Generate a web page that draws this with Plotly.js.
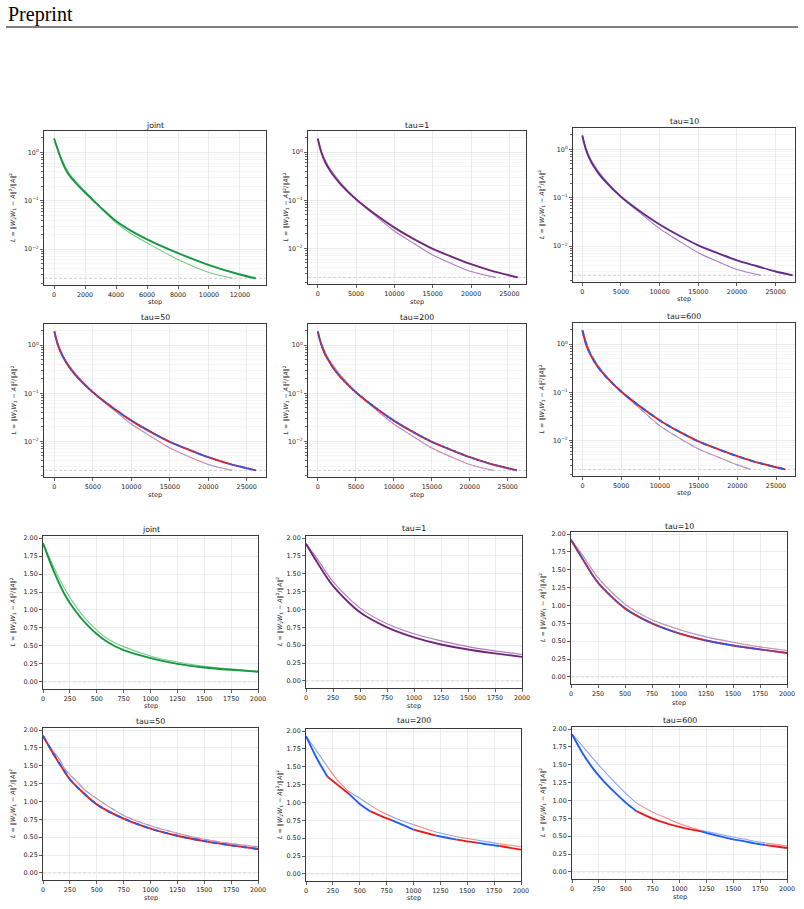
<!DOCTYPE html>
<html><head><meta charset="utf-8">
<script src="https://cdn.plot.ly/plotly-3.0.1.min.js"></script>
<style>html,body{margin:0;padding:0;background:#fff;}#chart{width:804px;height:909px;}</style>
</head><body><div id="chart"></div>
<script>
// ---------------- DATA ----------------
const TITLES = ['joint','tau=1','tau=10','tau=50','tau=200','tau=600'];
const TAUS = [0, 1, 10, 50, 200, 600];
const THRESH_LOG = 0.0025;   // dashed threshold line on the log panels
const THRESH_LIN = 0;        // dashed line on the linear panels

// --- top group (log y, full run) ---
const logJointDarkStep  = [0, 250, 500, 750, 1000, 1500, 2000, 3000, 4000, 5000, 6000, 8000, 10000, 12000, 13030];
const logJointDarkLoss  = [1.93, 1.10, 0.665, 0.44, 0.33, 0.215, 0.148, 0.073, 0.038, 0.0235, 0.0160, 0.0083, 0.0047, 0.0030, 0.0025];
const logJointLightStep = [0, 250, 500, 750, 1000, 1500, 2000, 3000, 4000, 5000, 6000, 8000, 10000, 11530];
const logJointLightLoss = [1.93, 1.17, 0.72, 0.49, 0.36, 0.23, 0.157, 0.073, 0.035, 0.0205, 0.0135, 0.0061, 0.0033, 0.0025];

const logTau1DarkStep  = [0, 250, 500, 1000, 1500, 2000, 3000, 5000, 7500, 10000, 12500, 15000, 17500, 20000, 22500, 26100];
const logTau1DarkLoss  = [1.92, 1.33, 0.96, 0.61, 0.44, 0.336, 0.215, 0.105, 0.051, 0.027, 0.0158, 0.0098, 0.0067, 0.0047, 0.0035, 0.0025];
const logTau1LightStep = [0, 250, 500, 1000, 1500, 2000, 3000, 5000, 7500, 10000, 12500, 15000, 17500, 20000, 23200];
const logTau1LightLoss = [1.92, 1.39, 1.02, 0.66, 0.48, 0.37, 0.23, 0.106, 0.048, 0.023, 0.0128, 0.0073, 0.0048, 0.0033, 0.0025];

const logTau10DarkStep  = [0, 250, 500, 1000, 1500, 2000, 3000, 5000, 7500, 10000, 12500, 15000, 17500, 20000, 22500, 25000, 27200];
const logTau10DarkLoss  = [1.92, 1.32, 0.96, 0.61, 0.44, 0.335, 0.215, 0.105, 0.052, 0.028, 0.0166, 0.0104, 0.0072, 0.0051, 0.0039, 0.0030, 0.0025];
const logTau10LightStep = [0, 250, 500, 1000, 1500, 2000, 3000, 5000, 7500, 10000, 12500, 15000, 17500, 20000, 23100];
const logTau10LightLoss = [1.92, 1.39, 1.02, 0.665, 0.485, 0.37, 0.23, 0.106, 0.048, 0.023, 0.0128, 0.0073, 0.0048, 0.0033, 0.0025];

const logTau50DarkStep  = [0, 250, 500, 1000, 1500, 2000, 3000, 5000, 7500, 10000, 12500, 15000, 17500, 20000, 22500, 26200];
const logTau50DarkLoss  = [1.92, 1.31, 0.96, 0.62, 0.445, 0.335, 0.215, 0.105, 0.051, 0.027, 0.0158, 0.0098, 0.0067, 0.0047, 0.0035, 0.0025];
const logTau50LightStep = [0, 250, 500, 1000, 1500, 2000, 3000, 5000, 7500, 10000, 12500, 15000, 17500, 20000, 23100];
const logTau50LightLoss = [1.92, 1.375, 1.04, 0.66, 0.47, 0.365, 0.23, 0.106, 0.048, 0.023, 0.0128, 0.0073, 0.0048, 0.0033, 0.0025];

const logTau200DarkStep  = [0, 250, 500, 1000, 1500, 2000, 3000, 5000, 7500, 10000, 12500, 15000, 17500, 20000, 22500, 26200];
const logTau200DarkLoss  = [1.93, 1.30, 0.98, 0.62, 0.455, 0.34, 0.215, 0.105, 0.051, 0.027, 0.0158, 0.0098, 0.0067, 0.0047, 0.0035, 0.0025];
const logTau200LightStep = [0, 250, 500, 1000, 1500, 2000, 3000, 5000, 7500, 10000, 12500, 15000, 17500, 20000, 23100];
const logTau200LightLoss = [1.93, 1.40, 1.06, 0.69, 0.495, 0.38, 0.235, 0.106, 0.048, 0.023, 0.0128, 0.0073, 0.0048, 0.0033, 0.0025];

const logTau600DarkStep  = [0, 250, 500, 1000, 1500, 2000, 3000, 5000, 7500, 10000, 12500, 15000, 17500, 20000, 22500, 26200];
const logTau600DarkLoss  = [1.93, 1.33, 0.97, 0.63, 0.445, 0.335, 0.215, 0.104, 0.050, 0.026, 0.0152, 0.0095, 0.0066, 0.0047, 0.0035, 0.0025];
const logTau600LightStep = [0, 250, 500, 1000, 1500, 2000, 3000, 5000, 7500, 10000, 12500, 15000, 17500, 20000, 21700];
const logTau600LightLoss = [1.93, 1.49, 1.10, 0.674, 0.488, 0.363, 0.225, 0.102, 0.045, 0.020, 0.0112, 0.0066, 0.0045, 0.0031, 0.0025];

// --- bottom group (linear y, first 2000 steps) ---
const linJointDarkStep  = [0, 100, 200, 300, 400, 500, 600, 750, 1000, 1250, 1500, 1750, 2000];
const linJointDarkLoss  = [1.93, 1.54, 1.22, 0.99, 0.81, 0.665, 0.555, 0.44, 0.33, 0.25, 0.20, 0.167, 0.14];
const linJointLightStep = [0, 100, 200, 300, 400, 500, 600, 750, 1000, 1250, 1500, 1750, 2000];
const linJointLightLoss = [1.93, 1.60, 1.30, 1.06, 0.87, 0.72, 0.60, 0.49, 0.36, 0.275, 0.215, 0.177, 0.149];

const linTau1DarkStep  = [0, 100, 250, 500, 750, 1000, 1250, 1500, 1750, 2000];
const linTau1DarkLoss  = [1.92, 1.67, 1.33, 0.96, 0.75, 0.61, 0.51, 0.44, 0.385, 0.336];
const linTau1LightStep = [0, 100, 250, 500, 750, 1000, 1250, 1500, 1750, 2000];
const linTau1LightLoss = [1.92, 1.72, 1.39, 1.02, 0.80, 0.66, 0.56, 0.48, 0.42, 0.37];

const linTau10DarkStep  = [0, 100, 250, 500, 750, 1000, 1250, 1500, 1750, 2000];
const linTau10DarkLoss  = [1.92, 1.67, 1.32, 0.96, 0.75, 0.61, 0.51, 0.44, 0.385, 0.335];
const linTau10LightStep = [0, 100, 250, 500, 750, 1000, 1250, 1500, 1750, 2000];
const linTau10LightLoss = [1.92, 1.72, 1.39, 1.02, 0.80, 0.665, 0.56, 0.485, 0.42, 0.37];

const linTau50DarkStep  = [0, 100, 200, 250, 500, 750, 1000, 1250, 1500, 1750, 2000];
const linTau50DarkLoss  = [1.92, 1.66, 1.42, 1.31, 0.96, 0.76, 0.62, 0.52, 0.445, 0.385, 0.335];
const linTau50LightStep = [0, 50, 100, 150, 200, 250, 300, 400, 500, 750, 1000, 1250, 1500, 1750, 2000];
const linTau50LightLoss = [1.92, 1.80, 1.69, 1.60, 1.46, 1.375, 1.30, 1.15, 1.04, 0.805, 0.66, 0.555, 0.47, 0.41, 0.365];

const linTau200DarkStep  = [0, 100, 200, 300, 400, 500, 600, 700, 800, 900, 1000, 1100, 1200, 1300, 1400, 1500, 1600, 1700, 1800, 1900, 2000];
const linTau200DarkLoss  = [1.93, 1.62, 1.36, 1.24, 1.12, 0.98, 0.875, 0.81, 0.75, 0.685, 0.62, 0.58, 0.54, 0.51, 0.48, 0.455, 0.435, 0.41, 0.39, 0.365, 0.34];
const linTau200LightStep = [0, 100, 200, 300, 400, 500, 600, 700, 800, 900, 1000, 1100, 1200, 1300, 1400, 1500, 1600, 1700, 1800, 1900, 2000];
const linTau200LightLoss = [1.93, 1.72, 1.50, 1.30, 1.15, 1.06, 0.96, 0.87, 0.80, 0.74, 0.69, 0.64, 0.59, 0.555, 0.52, 0.495, 0.47, 0.445, 0.42, 0.40, 0.38];

const linTau600DarkStep  = [0, 100, 200, 300, 400, 500, 600, 750, 900, 1000, 1100, 1200, 1300, 1400, 1500, 1600, 1700, 1800, 1900, 2000];
const linTau600DarkLoss  = [1.93, 1.66, 1.44, 1.26, 1.11, 0.97, 0.85, 0.745, 0.67, 0.63, 0.595, 0.567, 0.525, 0.49, 0.456, 0.43, 0.40, 0.375, 0.355, 0.335];
const linTau600LightStep = [0, 100, 200, 300, 400, 500, 600, 750, 900, 1000, 1100, 1200, 1300, 1400, 1500, 1600, 1700, 1800, 1900, 2000];
const linTau600LightLoss = [1.93, 1.76, 1.58, 1.41, 1.25, 1.10, 0.963, 0.837, 0.74, 0.674, 0.625, 0.58, 0.55, 0.52, 0.488, 0.46, 0.43, 0.405, 0.385, 0.363];

// tick labels
const LOG_TICKS = [1, 0.1, 0.01];
const LOG_TICKTEXT = ['10<sup>0</sup>', '10<sup>\u22121</sup>', '10<sup>\u22122</sup>'];

// ---------------- STYLE / LAYOUT ----------------
const W = 804, H = 909;
const FONT = 'DejaVu Sans, Verdana, sans-serif';
const GREEN = 'rgb(22,150,64)', GREEN_L = 'rgb(120,200,140)';
const PURPLE = 'rgb(110,40,122)', PURPLE_L = 'rgb(172,125,185)';
const PURPLE_B = 'rgb(100,42,138)', PURPLE_BL = 'rgb(165,125,195)';
const RED = 'rgb(228,28,28)', RED_L = 'rgb(242,135,135)';
const BLUE = 'rgb(32,92,242)', BLUE_L = 'rgb(135,165,250)';
const DW = 1.9, LW = 1.1;

// pixel boxes of the 12 axes
const BOX = [
  {l:44, r:266, t:131, b:285, ty:125, lx:13,  sy:302, xr:[-650,13680], xd:2000},
  {l:308,r:526, t:131, b:284, ty:125, lx:286, sy:302, xr:[-1265,27165], xd:5000},
  {l:573,r:795, t:128, b:282, ty:121, lx:541, sy:299, xr:[-1200,27500], xd:5000},
  {l:44, r:266, t:324, b:477, ty:317, lx:14,  sy:495, xr:[-1350,27500], xd:5000},
  {l:308,r:526, t:324, b:477, ty:317, lx:286, sy:495, xr:[-1300,27400], xd:5000},
  {l:573,r:795, t:323, b:476, ty:316, lx:542, sy:493, xr:[-1215,27450], xd:5000},
  {l:43, r:258, t:536, b:689, ty:529, lx:13,  sy:706, xr:[0,2000], xd:250},
  {l:306,r:522, t:536, b:688, ty:528, lx:279, sy:706, xr:[0,2000], xd:250},
  {l:571,r:787, t:532, b:684, ty:526, lx:542, sy:703, xr:[0,2000], xd:250},
  {l:43, r:258, t:728, b:880, ty:721, lx:12,  sy:898, xr:[0,2000], xd:250},
  {l:306,r:521, t:729, b:881, ty:720, lx:279, sy:898, xr:[0,2000], xd:250},
  {l:572,r:787, t:727, b:879, ty:720, lx:542, sy:897, xr:[0,2000], xd:250},
];

const PANEL_DATA = [
  [logJointDarkStep, logJointDarkLoss, logJointLightStep, logJointLightLoss],
  [logTau1DarkStep, logTau1DarkLoss, logTau1LightStep, logTau1LightLoss],
  [logTau10DarkStep, logTau10DarkLoss, logTau10LightStep, logTau10LightLoss],
  [logTau50DarkStep, logTau50DarkLoss, logTau50LightStep, logTau50LightLoss],
  [logTau200DarkStep, logTau200DarkLoss, logTau200LightStep, logTau200LightLoss],
  [logTau600DarkStep, logTau600DarkLoss, logTau600LightStep, logTau600LightLoss],
  [linJointDarkStep, linJointDarkLoss, linJointLightStep, linJointLightLoss],
  [linTau1DarkStep, linTau1DarkLoss, linTau1LightStep, linTau1LightLoss],
  [linTau10DarkStep, linTau10DarkLoss, linTau10LightStep, linTau10LightLoss],
  [linTau50DarkStep, linTau50DarkLoss, linTau50LightStep, linTau50LightLoss],
  [linTau200DarkStep, linTau200DarkLoss, linTau200LightStep, linTau200LightLoss],
  [linTau600DarkStep, linTau600DarkLoss, linTau600LightStep, linTau600LightLoss],
];
// how red/blue alternation is rendered: solid colour, dash overlay (px) or true segments
const MODE = [
  {k:'solid', c:GREEN, cl:GREEN_L}, {k:'solid', c:PURPLE, cl:PURPLE_L}, {k:'solid', c:PURPLE_B, cl:PURPLE_BL},
  {k:'dash', d:1}, {k:'dash', d:2}, {k:'dash', d:5},
  {k:'solid', c:GREEN, cl:GREEN_L}, {k:'solid', c:PURPLE, cl:PURPLE_L}, {k:'dash', d:1},
  {k:'dash', d:5}, {k:'seg'}, {k:'seg'},
];

const traces = [];
const layout = {
  width: W, height: H, margin: {l:0, r:0, t:0, b:0},
  paper_bgcolor: '#fff', plot_bgcolor: '#fff', showlegend: false,
  annotations: [], shapes: [], hovermode: false
};

function keys(i){ const n = i + 1; return {xa: n===1?'xaxis':'xaxis'+n, ya: n===1?'yaxis':'yaxis'+n, xr: n===1?'x':'x'+n, yr: n===1?'y':'y'+n}; }
function addLine(i, x, y, color, width, dash){
  const k = keys(i);
  traces.push({type:'scatter', mode:'lines', x:x, y:y, xaxis:k.xr, yaxis:k.yr,
    line:{color:color, width:width, shape:'spline', smoothing:0.8, dash:dash||'solid'}, hoverinfo:'skip'});
}
function segments(steps, loss, tau){
  const out = []; const n = Math.ceil(steps[steps.length-1] / tau);
  for (let k = 0; k < n; k++) {
    const a = k*tau, b = (k+1)*tau, xs = [], ys = [];
    steps.forEach((s, j) => { if (s >= a && s <= b) { xs.push(s); ys.push(loss[j]); } });
    if (xs.length > 1) out.push({x:xs, y:ys, blue: k % 2 === 0});
  }
  return out;
}

const minorLog = [];
[0.001, 0.01, 0.1, 1].forEach(d => { for (let m = 2; m <= 9; m++) minorLog.push(m*d); });

for (let i = 0; i < 12; i++) {
  const b = BOX[i], k = keys(i), isLog = i < 6, p = i % 6;
  const common = {
    showline:true, mirror:true, linecolor:'#3a3a3a', linewidth:1,
    ticks:'outside', ticklen:3, tickwidth:0.8, tickcolor:'#3a3a3a',
    tickfont:{family:FONT, size:6.4, color:'#222'},
    showgrid:true, gridcolor:'#e4e4e4', gridwidth:0.7, zeroline:false, fixedrange:true
  };
  layout[k.xa] = Object.assign({}, common, {
    domain:[b.l/W, b.r/W], anchor:k.yr, range:b.xr, tickmode:'linear', tick0:0, dtick:b.xd, tickformat:'d'
  });
  if (isLog) {
    layout[k.ya] = Object.assign({}, common, {
      domain:[1-b.b/H, 1-b.t/H], anchor:k.xr, type:'log', range:[-2.74, 0.44],
      tickmode:'array', tickvals:LOG_TICKS, ticktext:LOG_TICKTEXT,
      minor:{tickmode:'array', tickvals:minorLog, ticks:'outside', ticklen:1.8, tickcolor:'#3a3a3a', showgrid:true, gridcolor:'#efefef', gridwidth:0.6}
    });
  } else {
    layout[k.ya] = Object.assign({}, common, {
      domain:[1-b.b/H, 1-b.t/H], anchor:k.xr, range:[-0.1, 2.03],
      tickmode:'linear', tick0:0, dtick:0.25, tickformat:'.2f'
    });
  }
  const th = isLog ? THRESH_LOG : THRESH_LIN;
  layout.shapes.push({type:'line', xref:k.xr+' domain', yref:k.yr, x0:0, x1:1, y0:th, y1:th,
    line:{color:'rgba(0,0,0,0.28)', width:0.7, dash:'3px,2px'}, layer:'below'});

  const [ds, dl, ls, ll] = PANEL_DATA[i];
  const m = MODE[i];
  if (m.k === 'solid') { addLine(i, ls, ll, m.cl, LW); addLine(i, ds, dl, m.c, DW); }
  else if (m.k === 'dash') {
    const dd = m.d + 'px,' + m.d + 'px';
    addLine(i, ls, ll, RED_L, LW); addLine(i, ls, ll, BLUE_L, LW, dd);
    addLine(i, ds, dl, RED, DW); addLine(i, ds, dl, BLUE, DW, dd);
  } else {
    const tau = TAUS[p];
    segments(ls, ll, tau).forEach(s => addLine(i, s.x, s.y, s.blue ? BLUE_L : RED_L, LW));
    segments(ds, dl, tau).forEach(s => addLine(i, s.x, s.y, s.blue ? BLUE : RED, DW));
  }

  layout.annotations.push({xref:'paper', yref:'paper', x:(b.l+b.r)/2/W, y:1-b.ty/H, xanchor:'center', yanchor:'middle',
    text:TITLES[p], showarrow:false, font:{family:FONT, size:7.8, color:'#111'}});
  layout.annotations.push({xref:'paper', yref:'paper', x:(b.l+b.r)/2/W, y:1-b.sy/H, xanchor:'center', yanchor:'middle',
    text:'step', showarrow:false, font:{family:FONT, size:6.5, color:'#222'}});
  layout.annotations.push({xref:'paper', yref:'paper', x:b.lx/W, y:1-(b.t+b.b)/2/H, xanchor:'center', yanchor:'middle', textangle:-90,
    text:'<i>L</i> = \u2016<i>W</i><sub>2</sub><i>W</i><sub>1</sub> \u2212 <i>A</i>\u2016<sup>2</sup>/\u2016<i>A</i>\u2016<sup>2</sup>',
    showarrow:false, font:{family:FONT, size:6.3, color:'#222'}});
}

layout.annotations.push({xref:'paper', yref:'paper', x:6/W, y:1-15/H, xanchor:'left', yanchor:'middle',
  text:'Preprint', showarrow:false, font:{family:'Liberation Serif, Times New Roman, serif', size:20, color:'#000'}});
layout.shapes.push({type:'line', xref:'paper', yref:'paper', x0:6/W, x1:798/W, y0:1-27/H, y1:1-27/H, line:{color:'#000', width:1}});

Plotly.newPlot('chart', traces, layout, {staticPlot:true, displayModeBar:false});
</script></body></html>
